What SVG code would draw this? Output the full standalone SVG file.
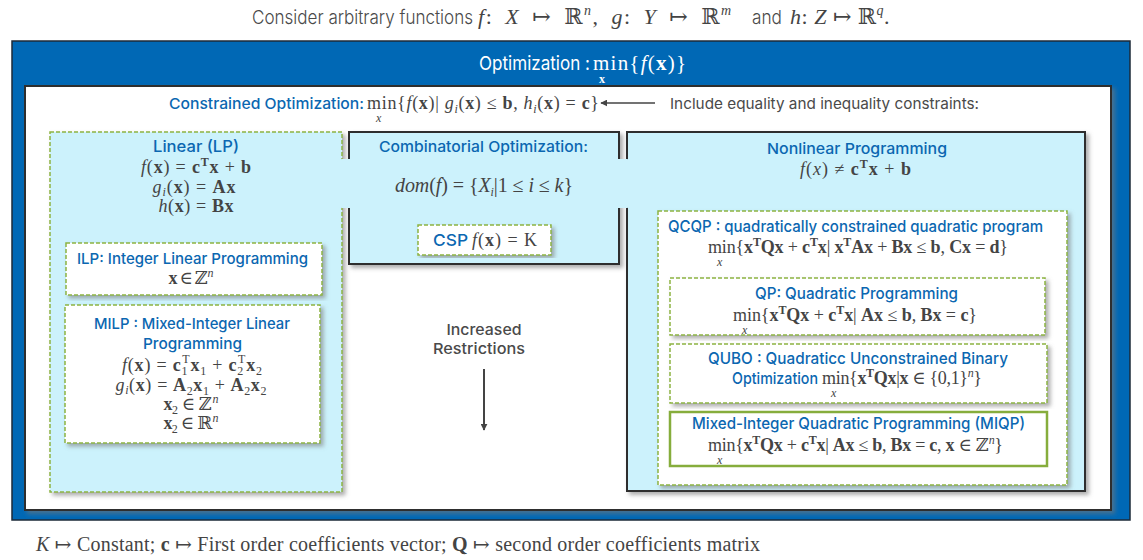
<svg xmlns="http://www.w3.org/2000/svg" width="1143" height="560" viewBox="0 0 1143 560">
<defs>
<filter id="sh" x="-5%" y="-5%" width="115%" height="115%">
<feDropShadow dx="3" dy="3" stdDeviation="2" flood-color="#777" flood-opacity="0.6"/>
</filter>
<marker id="ah" viewBox="0 0 10 10" refX="9" refY="5" markerWidth="7" markerHeight="7" orient="auto-start-reverse" markerUnits="userSpaceOnUse">
<path d="M0,0 L10,5 L0,10 z" fill="#444"/>
</marker>
<style>
.h{font-family:Inter,"Open Sans","Liberation Sans",sans-serif;fill:#0b67b1;font-weight:500}
.g{font-family:Inter,"Open Sans","Liberation Sans",sans-serif;fill:#4a4a4a}
.m{font-family:"Liberation Serif","DejaVu Serif",serif;fill:#444;font-size:18px}
.t{font-size:22px;letter-spacing:1.5px;word-spacing:5px}
.t2{font-size:22px;letter-spacing:0.5px}
.b{font-weight:bold}
.i{font-style:italic}
.s{font-size:12px}
.lb{fill:#ccf2fc}
.dash{stroke:#8db441;stroke-width:1.5;stroke-dasharray:4 2}
.dk{stroke:#2e2e2e;stroke-width:2}
</style>
</defs>

<!-- top caption -->
<g id="caption">
<text class="g" x="252" y="24" font-size="19" font-weight="300" textLength="221" lengthAdjust="spacingAndGlyphs">Consider arbitrary functions</text>
<text class="m t" x="478" y="24"><tspan class="i">f</tspan>: <tspan class="i">X</tspan> ↦ ℝ<tspan class="i" style="font-size:14px" dy="-9">n</tspan><tspan dy="9">, </tspan><tspan class="i">g</tspan>: <tspan class="i">Y</tspan> ↦ ℝ<tspan class="i" style="font-size:14px" dy="-9">m</tspan></text>
<text class="g" x="752" y="24" font-size="19" font-weight="300" textLength="30" lengthAdjust="spacingAndGlyphs">and</text>
<text class="m t2" x="790" y="24"><tspan class="i">h</tspan>: <tspan class="i">Z</tspan> ↦ ℝ<tspan class="i" style="font-size:14px" dy="-9">q</tspan><tspan dy="9">.</tspan></text>
</g>

<!-- outer optimization frame -->
<g id="optimization">
<rect x="12" y="41" width="1118" height="479" fill="#0068b5" stroke="#1d2a38" stroke-width="1.5"/>
<text x="479" y="70" font-family="Inter,'Open Sans',sans-serif" font-size="19" fill="#fff" textLength="111" lengthAdjust="spacingAndGlyphs">Optimization :</text>
<text x="593" y="70" font-family="'Liberation Serif',serif" font-size="21" fill="#fff" textLength="93" lengthAdjust="spacing">min{<tspan font-style="italic">f</tspan>(<tspan font-weight="bold">x</tspan>)}</text>
<text x="599" y="83" font-family="'Liberation Serif',serif" font-size="12" font-weight="bold" fill="#fff">x</text>
</g>

<g id="constrained">
<rect x="25" y="86" width="1086" height="424" fill="#fff" stroke="#2e2e2e" stroke-width="2" filter="url(#sh)"/>
<text class="h" x="169" y="109" font-size="15" font-weight="600" textLength="195" lengthAdjust="spacingAndGlyphs">Constrained Optimization:</text>
<text class="m" x="367" y="109" textLength="232" lengthAdjust="spacing">min{<tspan class="i">f</tspan>(<tspan class="b">x</tspan>)| <tspan class="i">g</tspan><tspan class="i s" dy="4">i</tspan><tspan dy="-4">(</tspan><tspan class="b">x</tspan>) ≤ <tspan class="b">b</tspan>, <tspan class="i">h</tspan><tspan class="i s" dy="4">i</tspan><tspan dy="-4">(</tspan><tspan class="b">x</tspan>) = <tspan class="b">c</tspan>}</text>
<text class="m i s" x="376" y="122">x</text>
<text class="g" x="670" y="109" font-size="15" textLength="309" lengthAdjust="spacingAndGlyphs">Include equality and inequality constraints:</text>
</g>

<!-- LP -->
<g id="lp">
<rect x="50" y="132" width="292" height="360" class="lb dash" filter="url(#sh)"/>
</g>
<!-- combinatorial -->
<g id="combinatorial">
<rect x="349" y="132" width="270" height="132" class="lb dk" filter="url(#sh)"/>
</g>
<!-- nonlinear -->
<g id="nonlinear">
<rect x="627" y="132" width="458" height="359" class="lb dk" filter="url(#sh)"/>
</g>
<!-- connecting band -->
<rect x="336" y="159" width="297" height="49" rx="6" class="lb"/>

<g id="lp-text">
<text class="h" x="153" y="152" font-size="16" textLength="86" lengthAdjust="spacingAndGlyphs">Linear (LP)</text>
<text class="m" x="196" y="173" text-anchor="middle" textLength="110" lengthAdjust="spacing"><tspan class="i">f</tspan>(<tspan class="b">x</tspan>) = <tspan class="b">c</tspan><tspan class="b s" dy="-7">T</tspan><tspan class="b" dy="7">x</tspan> + <tspan class="b">b</tspan></text>
<text class="m" x="194" y="193" text-anchor="middle" textLength="83" lengthAdjust="spacing"><tspan class="i">g</tspan><tspan class="i s" dy="3">i</tspan><tspan dy="-3">(</tspan><tspan class="b">x</tspan>) = <tspan class="b">Ax</tspan></text>
<text class="m" x="196" y="212" text-anchor="middle" textLength="75" lengthAdjust="spacing"><tspan class="i">h</tspan>(<tspan class="b">x</tspan>) = <tspan class="b">Bx</tspan></text>
</g>

<g id="ilp">
<rect x="66" y="243" width="256" height="52" fill="#fff" class="dash" filter="url(#sh)"/>
<text class="h" x="77" y="264" font-size="15" textLength="231" lengthAdjust="spacingAndGlyphs">ILP: Integer Linear Programming</text>
<text class="m" x="191" y="284" text-anchor="middle" textLength="45" lengthAdjust="spacing"><tspan class="b">x</tspan> ∈ ℤ<tspan class="i s" dx="1" dy="-7">n</tspan></text>
</g>

<g id="milp">
<rect x="65" y="305" width="255" height="138" fill="#fff" class="dash" filter="url(#sh)"/>
<text class="h" x="94" y="329" font-size="15" textLength="196" lengthAdjust="spacingAndGlyphs">MILP : Mixed-Integer Linear</text>
<text class="h" x="143" y="349" font-size="15" textLength="99" lengthAdjust="spacingAndGlyphs">Programming</text>
<text class="m" x="192" y="371" text-anchor="middle" textLength="140" lengthAdjust="spacing"><tspan class="i">f</tspan>(<tspan class="b">x</tspan>) = <tspan class="b">c</tspan><tspan class="s" dy="4">1</tspan><tspan class="s" dx="-6" dy="-12">T</tspan><tspan class="b" dy="8">x</tspan><tspan class="s" dy="4">1</tspan><tspan dy="-4"> + </tspan><tspan class="b">c</tspan><tspan class="s" dy="4">2</tspan><tspan class="s" dx="-6" dy="-12">T</tspan><tspan class="b" dy="8">x</tspan><tspan class="s" dy="4">2</tspan></text>
<text class="m" x="191" y="391" text-anchor="middle" textLength="151" lengthAdjust="spacing"><tspan class="i">g</tspan><tspan class="i s" dy="3">i</tspan><tspan dy="-3">(</tspan><tspan class="b">x</tspan>) = <tspan class="b">A</tspan><tspan class="s" dy="4">2</tspan><tspan class="b" dy="-4">x</tspan><tspan class="s" dy="4">1</tspan><tspan dy="-4"> + </tspan><tspan class="b">A</tspan><tspan class="s" dy="4">2</tspan><tspan class="b" dy="-4">x</tspan><tspan class="s" dy="4">2</tspan></text>
<text class="m" x="191" y="410" text-anchor="middle" textLength="55" lengthAdjust="spacing"><tspan class="b">x</tspan><tspan class="s" dy="4">2</tspan><tspan dy="-4"> ∈ ℤ</tspan><tspan class="i s" dx="1" dy="-7">n</tspan></text>
<text class="m" x="191" y="429" text-anchor="middle" textLength="55" lengthAdjust="spacing"><tspan class="b">x</tspan><tspan class="s" dy="4">2</tspan><tspan dy="-4"> ∈ ℝ</tspan><tspan class="i s" dx="1" dy="-7">n</tspan></text>
</g>

<g id="comb-text">
<text class="h" x="379" y="152" font-size="15" font-weight="600" textLength="209" lengthAdjust="spacingAndGlyphs">Combinatorial Optimization:</text>
<text class="m i" x="395" y="192" style="font-size:20px" textLength="178" lengthAdjust="spacing">dom<tspan font-style="normal">(</tspan>f<tspan font-style="normal">) = {</tspan>X<tspan class="s" dy="4">i</tspan><tspan font-style="normal" dy="-4">|1 ≤ </tspan>i<tspan font-style="normal"> ≤ </tspan>k<tspan font-style="normal">}</tspan></text>
</g>

<g id="csp">
<rect x="418" y="225" width="133" height="30" fill="#fff" class="dash" filter="url(#sh)"/>
<text class="h" x="433" y="246" font-size="16" font-weight="600" textLength="35" lengthAdjust="spacingAndGlyphs">CSP</text>
<text class="m" x="472" y="246" textLength="65" lengthAdjust="spacing"><tspan class="i">f</tspan>(<tspan class="b">x</tspan>) = K</text>
</g>

<g id="nl-text">
<text class="h" x="767" y="154" font-size="15" font-weight="600" textLength="180" lengthAdjust="spacingAndGlyphs">Nonlinear Programming</text>
<text class="m" x="800" y="175" textLength="111" lengthAdjust="spacing"><tspan class="i">f</tspan>(<tspan class="i">x</tspan>) ≠ <tspan class="b">c</tspan><tspan class="b s" dy="-7">T</tspan><tspan class="b" dy="7">x</tspan> + <tspan class="b">b</tspan></text>
</g>

<g id="qcqp">
<rect x="658" y="211" width="409" height="274" fill="#fff" class="dash" filter="url(#sh)"/>
<text class="h" x="668" y="232" font-size="16" textLength="375" lengthAdjust="spacingAndGlyphs">QCQP : quadratically constrained quadratic program</text>
<text class="m" x="708" y="253" textLength="300" lengthAdjust="spacing">min{<tspan class="b">x</tspan><tspan class="b s" dy="-7">T</tspan><tspan class="b" dy="7">Qx</tspan> + <tspan class="b">c</tspan><tspan class="b s" dy="-7">T</tspan><tspan class="b" dy="7">x</tspan>| <tspan class="b">x</tspan><tspan class="b s" dy="-7">T</tspan><tspan class="b" dy="7">Ax</tspan> + <tspan class="b">Bx</tspan> ≤ <tspan class="b">b</tspan>, <tspan class="b">Cx</tspan> = <tspan class="b">d</tspan>}</text>
<text class="m i s" x="717" y="266">x</text>
</g>

<g id="qp">
<rect x="670" y="278" width="375" height="57" fill="#fff" class="dash" filter="url(#sh)"/>
<text class="h" x="755" y="299" font-size="16" textLength="203" lengthAdjust="spacingAndGlyphs">QP: Quadratic Programming</text>
<text class="m" x="733" y="321" textLength="244" lengthAdjust="spacing">min{<tspan class="b">x</tspan><tspan class="b s" dy="-7">T</tspan><tspan class="b" dy="7">Qx</tspan> + <tspan class="b">c</tspan><tspan class="b s" dy="-7">T</tspan><tspan class="b" dy="7">x</tspan>| <tspan class="b">Ax</tspan> ≤ <tspan class="b">b</tspan>, <tspan class="b">Bx</tspan> = <tspan class="b">c</tspan>}</text>
<text class="m i s" x="742" y="334">x</text>
</g>

<g id="qubo">
<rect x="670" y="344" width="377" height="59" fill="#fff" class="dash" filter="url(#sh)"/>
<text class="h" x="708" y="364" font-size="16" textLength="300" lengthAdjust="spacingAndGlyphs">QUBO : Quadraticc Unconstrained Binary</text>
<text class="h" x="732" y="384" font-size="16" textLength="86" lengthAdjust="spacingAndGlyphs">Optimization</text>
<text class="m" x="822" y="384" textLength="160" lengthAdjust="spacing">min{<tspan class="b">x</tspan><tspan class="b s" dy="-7">T</tspan><tspan class="b" dy="7">Qx</tspan>|<tspan class="b">x</tspan> ∈ {0,1}<tspan class="i s" dy="-7">n</tspan><tspan dy="7">}</tspan></text>
<text class="m i s" x="831" y="397">x</text>
</g>

<g id="miqp">
<rect x="670" y="412" width="377" height="54" fill="#fff" stroke="#86ad3c" stroke-width="2.5"/>
<text class="h" x="692" y="429" font-size="16" textLength="333" lengthAdjust="spacingAndGlyphs">Mixed-Integer Quadratic Programming (MIQP)</text>
<text class="m" x="708" y="451" textLength="295" lengthAdjust="spacing">min{<tspan class="b">x</tspan><tspan class="b s" dy="-7">T</tspan><tspan class="b" dy="7">Qx</tspan> + <tspan class="b">c</tspan><tspan class="b s" dy="-7">T</tspan><tspan class="b" dy="7">x</tspan>| <tspan class="b">Ax</tspan> ≤ <tspan class="b">b</tspan>, <tspan class="b">Bx</tspan> = <tspan class="b">c</tspan>, <tspan class="b">x</tspan> ∈ ℤ<tspan class="i s" dy="-7">n</tspan><tspan dy="7">}</tspan></text>
<text class="m i s" x="717" y="464">x</text>
</g>

<g id="increased">
<text class="g" x="484" y="335" font-size="15" font-weight="500" text-anchor="middle" textLength="75" lengthAdjust="spacingAndGlyphs">Increased</text>
<text class="g" x="479" y="354" font-size="15" font-weight="500" text-anchor="middle" textLength="92" lengthAdjust="spacingAndGlyphs">Restrictions</text>
</g>

<g id="connectors">
<line x1="655" y1="103" x2="601" y2="103" stroke="#444" stroke-width="1.5" marker-end="url(#ah)"/>
<line x1="484" y1="369" x2="484" y2="430" stroke="#444" stroke-width="2" marker-end="url(#ah)"/>
</g>

<text class="m" x="36" y="551" style="font-size:20px" textLength="724" lengthAdjust="spacing"><tspan class="i">K</tspan> ↦ Constant; <tspan class="b">c</tspan> ↦ First order coefficients vector; <tspan class="b">Q</tspan> ↦ second order coefficients matrix</text>
</svg>
